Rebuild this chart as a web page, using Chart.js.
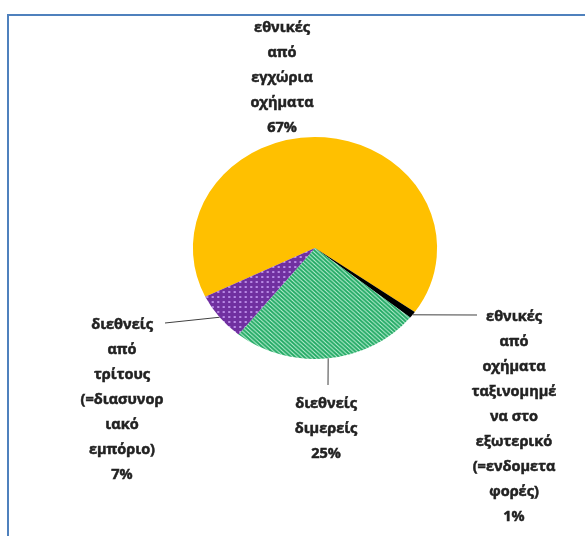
<!DOCTYPE html>
<html>
<head>
<meta charset="utf-8">
<script src="https://cdn.jsdelivr.net/npm/chart.js@4.4.0/dist/chart.umd.min.js"></script>
<style>
  html, body { margin: 0; padding: 0; background: #fff; overflow: hidden; }
  #frame {
    position: absolute; left: 7px; top: 14px; width: 620px; height: 560px;
    border: 2px solid #4f81bd; box-sizing: border-box;
  }
  #wrap { position: absolute; left: 0; top: 0; width: 585px; height: 536px; }
</style>
</head>
<body>
<div id="frame"></div>
<div id="wrap"><canvas id="roadChart" width="585" height="536"></canvas></div>
<script>
// Categories (already wrapped onto lines) and their shares in %
const categories = [
    ['εθνικές', 'από', 'εγχώρια', 'οχήματα'],
    ['εθνικές', 'από', 'οχήματα', 'ταξινομημέ', 'να στο', 'εξωτερικό', '(=ενδομετα', 'φορές)'],
    ['διεθνείς', 'διμερείς'],
    ['διεθνείς', 'από', 'τρίτους', '(=διασυνορ', 'ιακό', 'εμπόριο)']
];
const shares = [67, 1, 25, 7];

// Where each label sits, relative to the pie centre
const labelPlacement = [
    { dx: -33, dy: -220, leader: null },
    { dx: 199, dy: 69, leader: { x: 162, y: 67 } },
    { dx: 11, dy: 156, leader: { x: 13, y: 137 } },
    { dx: -193, dy: 77, leader: { x: -150, y: 75 } }
];

const stretchX = 1.1;
const lineHeight = 25;

// Fill patterns
function makePattern(size, draw) {
    const c = document.createElement('canvas');
    c.width = size; c.height = size;
    draw(c.getContext('2d'), size);
    return document.getElementById('roadChart').getContext('2d').createPattern(c, 'repeat');
}

const stripes = makePattern(4, (g, s) => {
    g.fillStyle = '#b0eacb';
    g.fillRect(0, 0, s, s);
    g.strokeStyle = '#1fa862';
    g.lineWidth = 1.7;
    g.beginPath();
    g.moveTo(-1, -1); g.lineTo(s + 1, s + 1);
    g.moveTo(-1, s - 1); g.lineTo(1, s + 1);
    g.moveTo(s - 1, -1); g.lineTo(s + 1, 1);
    g.stroke();
});

const dots = makePattern(5, (g, s) => {
    g.fillStyle = '#7030a0';
    g.fillRect(0, 0, s, s);
    g.fillStyle = '#b98ae6';
    g.fillRect(1, 1, 2, 2);
});

const sliceColors = ['#ffc000', '#000000', stripes, dots];

// Squash the pie a little so it is wider than tall
const ellipsePlugin = {
    id: 'ellipse',
    beforeDatasetsDraw(chart) {
        const arc = chart.getDatasetMeta(0).data[0];
        const ctx = chart.ctx;
        ctx.save();
        ctx.translate(arc.x, arc.y);
        ctx.scale(stretchX, 1);
        ctx.translate(-arc.x, -arc.y);
    },
    afterDatasetsDraw(chart) {
        chart.ctx.restore();
    }
};

// Outside labels with leader lines
const labelPlugin = {
    id: 'sliceLabels',
    afterDraw(chart) {
        const ctx = chart.ctx;
        const values = chart.data.datasets[0].data;
        chart.getDatasetMeta(0).data.forEach((arc, i) => {
            const p = arc.getProps(['x', 'y', 'startAngle', 'endAngle', 'outerRadius'], true);
            const pos = labelPlacement[i];
            if (pos.leader) {
                const mid = (p.startAngle + p.endAngle) / 2;
                const ex = p.x + Math.cos(mid) * p.outerRadius * stretchX;
                const ey = p.y + Math.sin(mid) * p.outerRadius;
                ctx.save();
                ctx.strokeStyle = '#404040';
                ctx.lineWidth = 1;
                ctx.beginPath();
                ctx.moveTo(ex, ey);
                ctx.lineTo(p.x + pos.leader.x, p.y + pos.leader.y);
                ctx.stroke();
                ctx.restore();
            }
            const lines = chart.data.labels[i].concat([values[i] + '%']);
            ctx.save();
            ctx.font = 'bold 14.5px "Open Sans"';
            ctx.fillStyle = '#222222';
            ctx.strokeStyle = '#222222';
            ctx.lineWidth = 0.5;
            ctx.textAlign = 'center';
            ctx.textBaseline = 'middle';
            lines.forEach((t, k) => {
                const tx = p.x + pos.dx;
                const ty = p.y + pos.dy + k * lineHeight;
                ctx.fillText(t, tx, ty);
                ctx.strokeText(t, tx, ty);
            });
            ctx.restore();
        });
    }
};

const ctx = document.getElementById('roadChart').getContext('2d');
const roadChart = new Chart(ctx, {
    type: 'pie',
    data: {
        labels: categories,
        datasets: [{
            data: shares,
            backgroundColor: sliceColors,
            borderWidth: 0,
        }]
    },
    options: {
        responsive: false,
        animation: false,
        rotation: 244,
        layout: {
            padding: { left: 204, right: 159, top: 137, bottom: 177 }
        },
        plugins: {
            legend: { display: false },
            tooltip: { enabled: false },
        },
    },
    plugins: [ellipsePlugin, labelPlugin],
});
</script>
</body>
</html>
